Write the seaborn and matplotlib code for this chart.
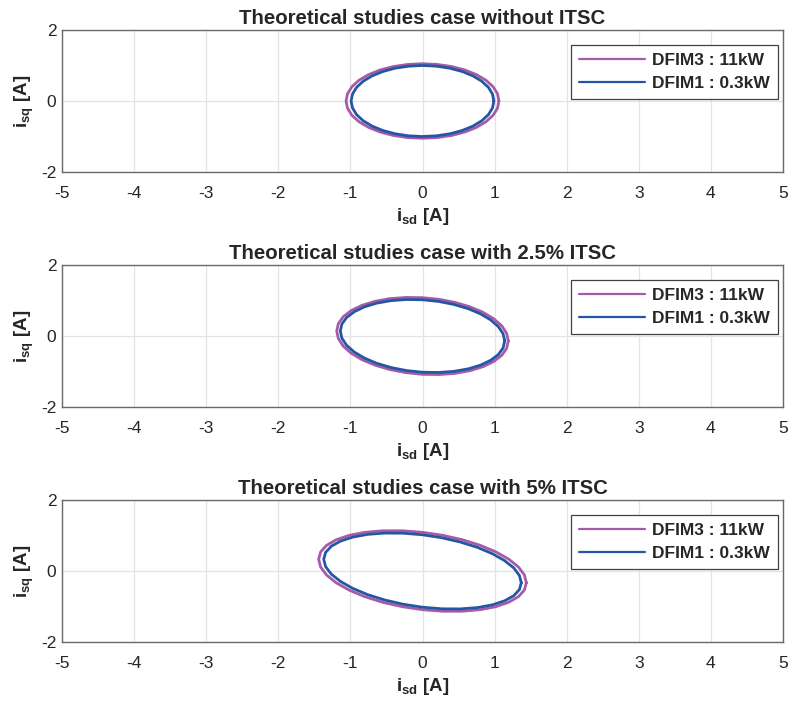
import matplotlib
matplotlib.use("Agg")
import matplotlib.pyplot as plt
import seaborn as sns
import pandas as pd
from matplotlib.lines import Line2D

sns.set_theme(style="white")
plt.rcParams['font.family'] = ['Liberation Sans', 'DejaVu Sans']
plt.rcParams['mathtext.fontset'] = 'custom'
plt.rcParams['mathtext.rm'] = 'Liberation Sans'
plt.rcParams['mathtext.bf'] = 'Liberation Sans:bold'
plt.rcParams['mathtext.it'] = 'Liberation Sans:italic'

titles = ["Theoretical studies case without ITSC",
          "Theoretical studies case with 2.5% ITSC",
          "Theoretical studies case with 5% ITSC"]
series_names = ["DFIM3 : 11kW", "DFIM1 : 0.3kW"]
colors = {"DFIM3 : 11kW": "#A65BA8", "DFIM1 : 0.3kW": "#2456A4"}

x_ticks = [-5, -4, -3, -2, -1, 0, 1, 2, 3, 4, 5]
y_ticks = [-2, 0, 2]

# Case 1: without ITSC
dfim3_x_1 = [1.06, 1.040, 0.979, 0.881, 0.749, 0.589, 0.406, 0.207, 0, -0.207, -0.406, -0.589, -0.749, -0.881, -0.979, -1.040,
             -1.06, -1.040, -0.979, -0.881, -0.749, -0.589, -0.406, -0.207, 0, 0.207, 0.406, 0.589, 0.749, 0.881, 0.979, 1.040, 1.06]
dfim3_y_1 = [0, 0.205, 0.402, 0.584, 0.742, 0.873, 0.970, 1.030, 1.05, 1.030, 0.970, 0.873, 0.742, 0.584, 0.402, 0.205,
             0, -0.205, -0.402, -0.584, -0.742, -0.873, -0.970, -1.030, -1.05, -1.030, -0.970, -0.873, -0.742, -0.584, -0.402, -0.205, 0]
dfim1_x_1 = [0.99, 0.971, 0.915, 0.823, 0.700, 0.550, 0.379, 0.193, 0, -0.193, -0.379, -0.550, -0.700, -0.823, -0.915, -0.971,
             -0.99, -0.971, -0.915, -0.823, -0.700, -0.550, -0.379, -0.193, 0, 0.193, 0.379, 0.550, 0.700, 0.823, 0.915, 0.971, 0.99]
dfim1_y_1 = [0, 0.195, 0.383, 0.556, 0.707, 0.831, 0.924, 0.981, 1.0, 0.981, 0.924, 0.831, 0.707, 0.556, 0.383, 0.195,
             0, -0.195, -0.383, -0.556, -0.707, -0.831, -0.924, -0.981, -1.0, -0.981, -0.924, -0.831, -0.707, -0.556, -0.383, -0.195, 0]

# Case 2: 2.5% ITSC
dfim3_x_2 = [1.19, 1.167, 1.100, 0.989, 0.841, 0.662, 0.456, 0.232, 0, -0.232, -0.456, -0.662, -0.841, -0.989, -1.100, -1.167,
             -1.19, -1.167, -1.100, -0.989, -0.841, -0.662, -0.456, -0.232, 0, 0.232, 0.456, 0.662, 0.841, 0.989, 1.100, 1.167, 1.19]
dfim3_y_2 = [-0.14, 0.074, 0.285, 0.484, 0.665, 0.819, 0.944, 1.032, 1.08, 1.086, 1.052, 0.975, 0.863, 0.716, 0.543, 0.348,
             0.14, -0.074, -0.285, -0.484, -0.665, -0.819, -0.944, -1.032, -1.08, -1.086, -1.052, -0.975, -0.863, -0.716, -0.543, -0.348, -0.14]
dfim1_x_2 = [1.14, 1.118, 1.053, 0.947, 0.806, 0.634, 0.437, 0.222, 0, -0.222, -0.437, -0.634, -0.806, -0.947, -1.053, -1.118,
             -1.14, -1.118, -1.053, -0.947, -0.806, -0.634, -0.437, -0.222, 0, 0.222, 0.437, 0.634, 0.806, 0.947, 1.053, 1.118, 1.14]
dfim1_y_2 = [-0.14, 0.062, 0.262, 0.451, 0.622, 0.770, 0.888, 0.974, 1.02, 1.028, 0.996, 0.926, 0.820, 0.683, 0.520, 0.336,
             0.14, -0.062, -0.262, -0.451, -0.622, -0.770, -0.888, -0.974, -1.02, -1.028, -0.996, -0.926, -0.820, -0.683, -0.520, -0.336, -0.14]

# Case 3: 5% ITSC
dfim3_x_3 = [1.44, 1.413, 1.331, 1.197, 1.018, 0.801, 0.552, 0.281, 0, -0.281, -0.552, -0.801, -1.018, -1.197, -1.331, -1.413,
             -1.44, -1.413, -1.331, -1.197, -1.018, -0.801, -0.552, -0.281, 0, 0.281, 0.552, 0.801, 1.018, 1.197, 1.331, 1.413, 1.44]
dfim3_y_3 = [-0.33, -0.111, 0.112, 0.332, 0.538, 0.723, 0.881, 1.005, 1.09, 1.133, 1.133, 1.089, 1.004, 0.880, 0.722, 0.537,
             0.33, 0.111, -0.112, -0.332, -0.538, -0.723, -0.881, -1.005, -1.09, -1.133, -1.133, -1.089, -1.004, -0.880, -0.722, -0.537, -0.33]
dfim1_x_3 = [1.37, 1.344, 1.266, 1.138, 0.969, 0.762, 0.525, 0.267, 0, -0.267, -0.525, -0.762, -0.969, -1.138, -1.266, -1.344,
             -1.37, -1.344, -1.266, -1.138, -0.969, -0.762, -0.525, -0.267, 0, 0.267, 0.525, 0.762, 0.969, 1.138, 1.266, 1.344, 1.37]
dfim1_y_3 = [-0.33, -0.125, 0.086, 0.293, 0.488, 0.665, 0.816, 0.937, 1.02, 1.065, 1.068, 1.031, 0.954, 0.841, 0.696, 0.523,
             0.33, 0.125, -0.086, -0.293, -0.488, -0.665, -0.816, -0.937, -1.02, -1.065, -1.068, -1.031, -0.954, -0.841, -0.696, -0.523, -0.33]

cases = [
    (dfim3_x_1, dfim3_y_1, dfim1_x_1, dfim1_y_1),
    (dfim3_x_2, dfim3_y_2, dfim1_x_2, dfim1_y_2),
    (dfim3_x_3, dfim3_y_3, dfim1_x_3, dfim1_y_3),
]

fig = plt.figure(figsize=(7.88, 7.02), dpi=100)
bottoms = [1 - 172 / 702, 1 - 407 / 702, 1 - 642 / 702]
left = 62 / 788
width = (783 - 62) / 788
height = 142 / 702

spine_col = "#6a6a6a"
text_col = "#262626"

for i, (x3, y3, x1, y1) in enumerate(cases):
    ax = fig.add_axes([left, bottoms[i], width, height])
    ax.grid(True, color="#e3e3e3", linewidth=0.9)
    ax.set_axisbelow(True)
    d3 = pd.DataFrame({"x": x3, "y": y3})
    d1 = pd.DataFrame({"x": x1, "y": y1})
    sns.lineplot(data=d3, x="x", y="y", sort=False, estimator=None, ax=ax,
                 color=colors[series_names[0]], linewidth=2.0)
    sns.lineplot(data=d1, x="x", y="y", sort=False, estimator=None, ax=ax,
                 color=colors[series_names[1]], linewidth=2.0)
    ax.set_xlim(-5, 5)
    ax.set_ylim(-2, 2)
    ax.set_xticks(x_ticks)
    ax.set_yticks(y_ticks)
    ax.set_xticklabels([str(v) for v in x_ticks])
    ax.set_yticklabels([str(v) for v in y_ticks])
    ax.tick_params(axis="both", direction="in", length=4, width=1, color=spine_col,
                   labelsize=12.5, labelcolor=text_col)
    ax.tick_params(axis="x", pad=10)
    ax.tick_params(axis="y", pad=4)
    for s in ax.spines.values():
        s.set_color(spine_col)
        s.set_linewidth(1.0)
        s.set_visible(True)
    ax.set_title(titles[i], fontsize=14.7, fontweight="bold", color=text_col, pad=4)
    ax.set_xlabel(r"$\mathbf{i_{sd}}$ [A]", fontsize=13.5, fontweight="bold", color=text_col, labelpad=4)
    ax.set_ylabel(r"$\mathbf{i_{sq}}$ [A]", fontsize=13.5, fontweight="bold", color=text_col, labelpad=4)
    handles = [Line2D([0], [0], color=colors[n], linewidth=1.6) for n in series_names]
    leg = ax.legend(handles, series_names, loc="upper right",
                    bbox_to_anchor=(1 - 5 / 721, 1 - 15 / 142),
                    prop={"weight": "bold", "size": 12.5}, handlelength=3.85,
                    handletextpad=0.4, borderpad=0.45, labelspacing=0.45,
                    borderaxespad=0, frameon=True, fancybox=False, framealpha=1,
                    edgecolor="#404040")
    leg.get_frame().set_linewidth(0.9)
    for t in leg.get_texts():
        t.set_color(text_col)

fig.savefig("out.png", dpi=100)
